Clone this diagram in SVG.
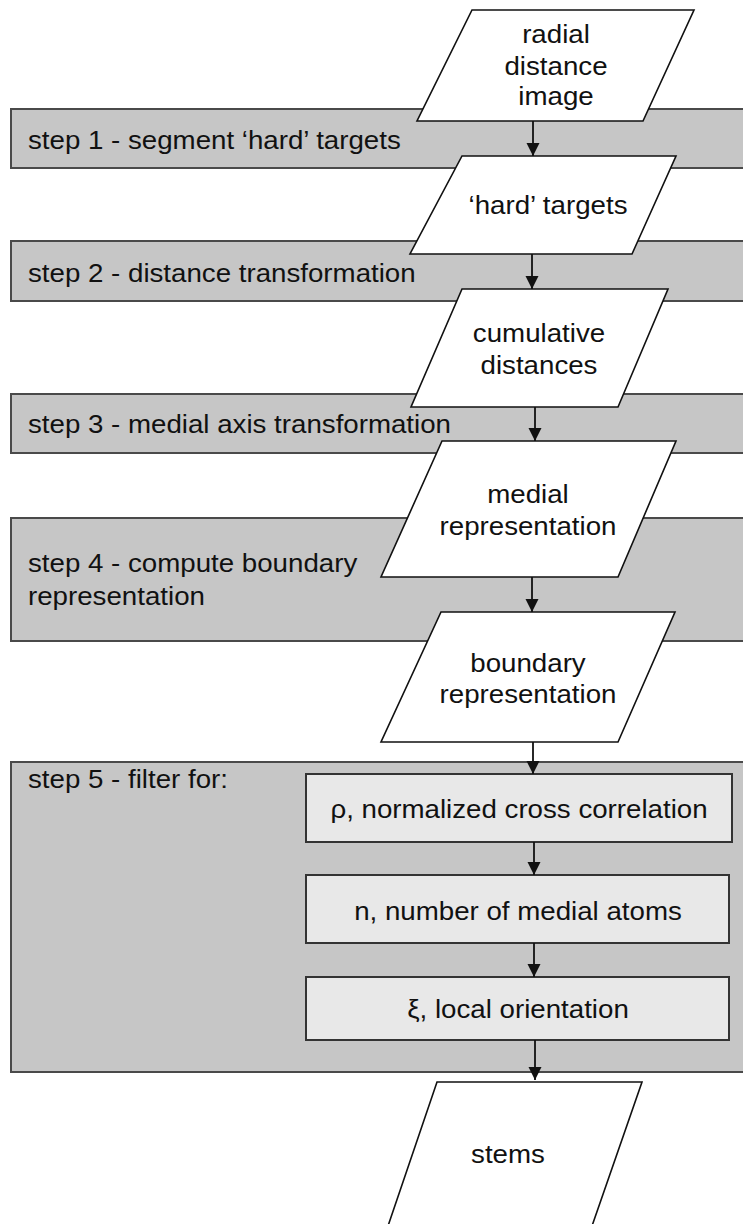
<svg xmlns="http://www.w3.org/2000/svg" width="743" height="1224" viewBox="0 0 743 1224">
<style>
.band{fill:#c6c6c6;stroke:#4a4a4a;stroke-width:2}
.para{fill:#ffffff;stroke:#111;stroke-width:1.6}
.box{fill:#e8e8e8;stroke:#333;stroke-width:2}
text{font-family:"Liberation Sans",Arial,sans-serif;font-size:26px;fill:#111}
.c{text-anchor:middle}
.conn{stroke:#111;stroke-width:1.8;fill:none;marker-end:url(#ah)}
</style>
<defs>
<marker id="ah" markerUnits="userSpaceOnUse" markerWidth="14" markerHeight="14" refX="13" refY="7" orient="auto" viewBox="0 0 14 14">
<path d="M0,0.5 L13,7 L0,13.5 Z" fill="#111"/>
</marker>
</defs>
<rect width="743" height="1224" fill="#ffffff"/>
<g id="step1"><rect class="band" x="11" y="109" width="745" height="59"/><g transform="translate(28 0) scale(1.065 1)"><text x="0" y="149">step 1 - segment ‘hard’ targets</text></g></g>
<g id="step2"><rect class="band" x="11" y="241" width="745" height="60"/><g transform="translate(28 0) scale(1.065 1)"><text x="0" y="282">step 2 - distance transformation</text></g></g>
<g id="step3"><rect class="band" x="11" y="394" width="745" height="59"/><g transform="translate(28 0) scale(1.065 1)"><text x="0" y="433">step 3 - medial axis transformation</text></g></g>
<g id="step4"><rect class="band" x="11" y="518" width="745" height="123"/><g transform="translate(28 0) scale(1.065 1)"><text x="0" y="572">step 4 - compute boundary</text><text x="0" y="605">representation</text></g></g>
<g id="step5"><rect class="band" x="11" y="762" width="745" height="310"/><g transform="translate(28 0) scale(1.065 1)"><text x="0" y="788">step 5 - filter for:</text></g></g>
<g id="radial-distance-image"><polygon class="para" points="472,10 694,10 643,121 417,121"/><g transform="translate(556 0) scale(1.065 1)"><text class="c" x="0" y="43">radial</text><text class="c" x="0" y="75">distance</text><text class="c" x="0" y="105">image</text></g></g>
<g id="hard-targets"><polygon class="para" points="462,156 676,156 632,254 410,254"/><g transform="translate(548 0) scale(1.065 1)"><text class="c" x="0" y="214">‘hard’ targets</text></g></g>
<g id="cumulative-distances"><polygon class="para" points="462,289 668,289 618,407 411,407"/><g transform="translate(539 0) scale(1.065 1)"><text class="c" x="0" y="342">cumulative</text><text class="c" x="0" y="374">distances</text></g></g>
<g id="medial-representation"><polygon class="para" points="442,441 676,441 618,577 381,577"/><g transform="translate(528 0) scale(1.065 1)"><text class="c" x="0" y="503">medial</text><text class="c" x="0" y="535">representation</text></g></g>
<g id="boundary-representation"><polygon class="para" points="441,612 675,612 618,742 381,742"/><g transform="translate(528 0) scale(1.065 1)"><text class="c" x="0" y="672">boundary</text><text class="c" x="0" y="703">representation</text></g></g>
<g id="filter-rho"><rect class="box" x="306" y="774" width="426" height="68"/><g transform="translate(519 0) scale(1.065 1)"><text class="c" x="0" y="818">ρ, normalized cross correlation</text></g></g>
<g id="filter-n"><rect class="box" x="306" y="875" width="423" height="68"/><g transform="translate(518 0) scale(1.065 1)"><text class="c" x="0" y="920">n, number of medial atoms</text></g></g>
<g id="filter-xi"><rect class="box" x="306" y="977" width="423" height="63"/><g transform="translate(518 0) scale(1.065 1)"><text class="c" x="0" y="1018">ξ, local orientation</text></g></g>
<g id="stems"><polygon class="para" points="437,1082 642,1082 592,1226 388,1226"/><g transform="translate(508 0) scale(1.065 1)"><text class="c" x="0" y="1163">stems</text></g></g>
<g id="connectors">
<line class="conn" x1="533" y1="121" x2="533" y2="156"/>
<line class="conn" x1="532" y1="254" x2="532" y2="289"/>
<line class="conn" x1="535" y1="407" x2="535" y2="441"/>
<line class="conn" x1="532" y1="577" x2="532" y2="612"/>
<line class="conn" x1="533" y1="742" x2="533" y2="774"/>
<line class="conn" x1="534" y1="842" x2="534" y2="875"/>
<line class="conn" x1="534" y1="943" x2="534" y2="977"/>
<line class="conn" x1="535" y1="1040" x2="535" y2="1080"/>
</g>
</svg>
